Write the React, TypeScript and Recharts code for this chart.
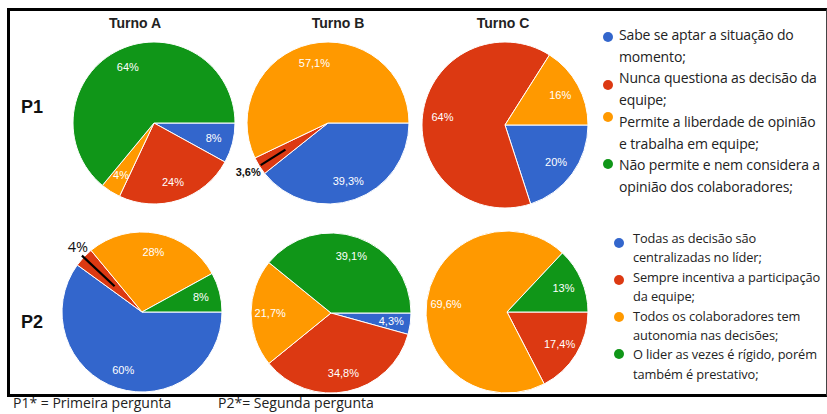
import { Cell, Pie, PieChart } from "recharts";

const turnos = ["Turno A", "Turno B", "Turno C"];
const colors = ["#3366cc", "#dc3912", "#ff9900", "#109618"];

const p1Legend = [
  "Sabe se aptar a situação do\nmomento;",
  "Nunca questiona as decisão da\nequipe;",
  "Permite a liberdade de opinião\ne trabalha em equipe;",
  "Não permite e nem considera a\nopinião dos colaboradores;",
];
const p2Legend = [
  "Todas as decisão são\ncentralizadas no líder;",
  "Sempre incentiva a participação\nda equipe;",
  "Todos os colaboradores tem\nautonomia nas decisões;",
  "O lider as vezes é rígido, porém\ntambém é prestativo;",
];

// percentages per turno, in legend order
const p1TurnoA = [8, 24, 4, 64];
const p1TurnoB = [39.3, 3.6, 57.1, 0];
const p1TurnoC = [20, 64, 16, 0];
const p2TurnoA = [60, 4, 28, 8];
const p2TurnoB = [4.3, 34.8, 21.7, 39.1];
const p2TurnoC = [0, 17.4, 69.6, 13];

const RADIAN = Math.PI / 180;
const fmt = (v: number) => String(v).replace(".", ",") + "%";

type PieCfg = {
  key: string;
  values: number[];
  names: string[];
  cx: number;
  cy: number;
  r: number;
  outside?: number; // index of slice whose label sits outside with a leader line
  outsideStyle?: "small" | "big";
};

const pies: PieCfg[] = [
  { key: "p1a", values: p1TurnoA, names: p1Legend, cx: 149, cy: 118, r: 81 },
  { key: "p1b", values: p1TurnoB, names: p1Legend, cx: 323, cy: 118, r: 81, outside: 1, outsideStyle: "small" },
  { key: "p1c", values: p1TurnoC, names: p1Legend, cx: 500, cy: 120, r: 83 },
  { key: "p2a", values: p2TurnoA, names: p2Legend, cx: 137, cy: 307, r: 80, outside: 1, outsideStyle: "big" },
  { key: "p2b", values: p2TurnoB, names: p2Legend, cx: 326, cy: 308, r: 80 },
  { key: "p2c", values: p2TurnoC, names: p2Legend, cx: 502, cy: 307, r: 81 },
];

const makeLabel = (cfg: PieCfg) => (props: any) => {
  const { cx, cy, midAngle, outerRadius, value, index } = props;
  if (!value) return null;
  const ca = Math.cos(-midAngle * RADIAN);
  const sa = Math.sin(-midAngle * RADIAN);
  if (cfg.outside === index) {
    const r1 = cfg.outsideStyle === "big" ? outerRadius * 0.47 : outerRadius * 0.62;
    const r2 = cfg.outsideStyle === "big" ? outerRadius * 1.03 : outerRadius * 0.98;
    const x1 = cx + r1 * ca;
    const y1 = cy + r1 * sa;
    const x2 = cx + r2 * ca;
    const y2 = cy + r2 * sa;
    return (
      <g>
        <line x1={x1} y1={y1} x2={x2} y2={y2} stroke="#000" strokeWidth={2.2} />
        {cfg.outsideStyle === "big" ? (
          <text x={x2 - 4} y={y2 - 9} textAnchor="middle" dominantBaseline="central" fill="#111" fontFamily="Open Sans" fontSize={14.5}>
            {fmt(value)}
          </text>
        ) : (
          <text x={x2} y={y2 + 7} textAnchor="end" dominantBaseline="central" fill="#111" fontFamily="Liberation Sans" fontSize={11} fontWeight="bold">
            {fmt(value)}
          </text>
        )}
      </g>
    );
  }
  const r = outerRadius * 0.76;
  return (
    <text x={cx + r * ca} y={cy + r * sa} textAnchor="middle" dominantBaseline="central" fill="#fff" fontFamily="Liberation Sans" fontSize={11}>
      {fmt(value)}
    </text>
  );
};

const legendText = {
  position: "absolute" as const,
  whiteSpace: "pre" as const,
  color: "#222",
  fontFamily: "Open Sans",
};

const Legend = ({ items, x, bx, top, lh, fs, ls, bulletY }: { items: string[]; x: number; bx: number; top: number; lh: number; fs: number; ls: number; bulletY: number[] }) => (
  <>
    {items.map((t, i) => (
      <div key={t}>
        <div
          style={{
            position: "absolute",
            left: bx - 5,
            top: bulletY[i] - 5,
            width: 10,
            height: 10,
            borderRadius: 5,
            background: colors[i],
          }}
        />
        <div style={{ ...legendText, left: x, top: top + i * 2 * lh, lineHeight: lh + "px", fontSize: fs, letterSpacing: ls }}>{t}</div>
      </div>
    ))}
  </>
);

export default function App() {
  return (
    <div style={{ position: "absolute", left: 0, top: 0, width: 827, height: 414, background: "#fff", overflow: "hidden" }}>
      <div
        style={{
          position: "absolute",
          left: 7,
          top: 8,
          width: 816,
          height: 383,
          borderTop: "3px solid #000",
          borderLeft: "3px solid #000",
          borderBottom: "3px solid #000",
          borderRight: "1.5px solid #444",
        }}
      />
      <PieChart width={827} height={414} style={{ position: "absolute", left: 0, top: 0 }}>
        {pies.map((p) => (
          <Pie
            key={p.key}
            data={p.names.map((name, i) => ({ name, value: p.values[i] }))}
            dataKey="value"
            cx={p.cx}
            cy={p.cy}
            outerRadius={p.r}
            startAngle={0}
            endAngle={-360}
            stroke="#fff"
            strokeWidth={1}
            labelLine={false}
            label={makeLabel(p)}
            isAnimationActive={false}
          >
            {p.values.map((_, i) => (
              <Cell key={i} fill={colors[i]} />
            ))}
          </Pie>
        ))}
      </PieChart>
      {turnos.map((t, i) => (
        <div
          key={t}
          style={{
            position: "absolute",
            left: [135, 338, 503][i] - 50,
            width: 100,
            top: 15,
            textAlign: "center",
            fontFamily: "Liberation Sans",
            fontWeight: "bold",
            fontSize: 14,
            lineHeight: "16px",
            color: "#222",
          }}
        >
          {t}
        </div>
      ))}
      {["P1", "P2"].map((t, i) => (
        <div
          key={t}
          style={{
            position: "absolute",
            left: 21,
            top: [107, 322][i] - 11,
            fontFamily: "Liberation Sans",
            fontWeight: "bold",
            fontSize: 18,
            lineHeight: "22px",
            color: "#111",
          }}
        >
          {t}
        </div>
      ))}
      <Legend items={p1Legend} x={619} bx={608} top={24} lh={21.7} fs={14} ls={-0.15} bulletY={[37, 85, 117, 164]} />
      <Legend items={p2Legend} x={633} bx={619} top={229} lh={19.4} fs={12.8} ls={-0.1} bulletY={[243, 280, 317, 354]} />
      <div style={{ ...legendText, left: 13, top: 394, fontSize: 14, lineHeight: "18px" }}>P1* = Primeira pergunta</div>
      <div style={{ ...legendText, left: 218, top: 394, fontSize: 14, lineHeight: "18px" }}>P2*= Segunda pergunta</div>
    </div>
  );
}
